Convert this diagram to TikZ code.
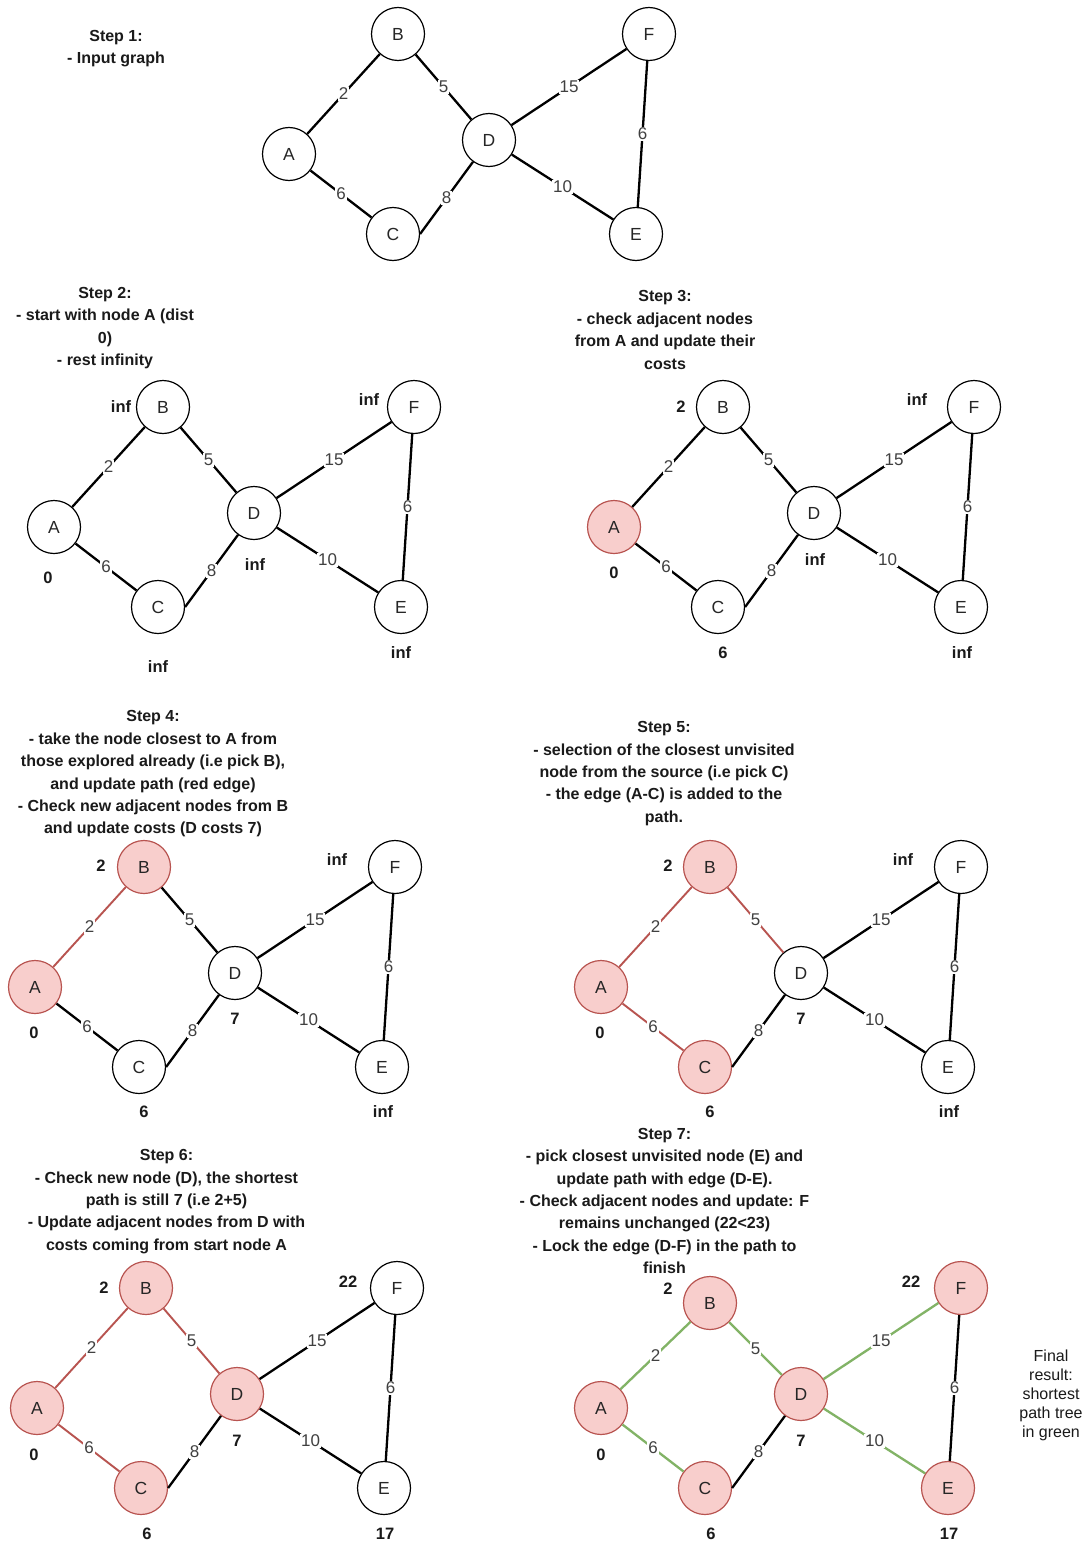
\documentclass[tikz,border=0pt]{standalone}
\usepackage{fontspec}
\setmainfont{Liberation Sans}
\usetikzlibrary{backgrounds}

\definecolor{visfill}{HTML}{F8CECC}
\definecolor{visline}{HTML}{B85450}
\definecolor{treeline}{HTML}{82B366}
\definecolor{inktext}{HTML}{1A1A1A}
\definecolor{weighttext}{HTML}{404040}

\tikzset{
  vertex/.style={circle, draw=black, line width=1.2pt, fill=white,
    minimum size=53pt, inner sep=0pt, font=\fontsize{17.5}{20}\selectfont, text=black!85},
  visited/.style={fill=visfill, draw=visline},
  plainedge/.style={line width=2.3pt, draw=black},
  redge/.style={line width=1.9pt, draw=visline},
  gedge/.style={line width=2.3pt, draw=treeline},
  wlabel/.style={fill=white, inner sep=1pt, font=\fontsize{17}{20}\selectfont, text=weighttext},
  dist/.style={font=\bfseries\fontsize{16.5}{19}\selectfont, text=inktext},
  caption/.style={align=center, font=\bfseries\fontsize{16}{22.4}\selectfont, text=inktext},
  note/.style={align=center, font=\fontsize{16}{19}\selectfont, text=inktext},
  % per-step appearance of vertices and edges
  stA/.style={}, stB/.style={}, stC/.style={}, stD/.style={}, stE/.style={}, stF/.style={},
  eAB/.style={}, eBD/.style={}, eAC/.style={}, eCD/.style={}, eDF/.style={}, eDE/.style={}, eFE/.style={},
}

% the weighted graph, in the coordinates of its first copy
\newcommand\graphbody{%
  \node[vertex, stA] (A) at (289,154) {A};
  \node[vertex, stB] (B) at (398,34)  {B};
  \node[vertex, stC] (C) at (393,234) {C};
  \node[vertex, stD] (D) at (489,140) {D};
  \node[vertex, stE] (E) at (636,234) {E};
  \node[vertex, stF] (F) at (649,34)  {F};
  \draw[plainedge, eAB] (A) -- node[wlabel] {2} (B);
  \draw[plainedge, eBD] (B) -- node[wlabel] {5} (D);
  \draw[plainedge, eAC] (A) -- node[wlabel] {6} (C);
  \draw[plainedge, eCD] (C.east) -- node[wlabel] {8} (D);
  \draw[plainedge, eDF] (D) -- node[wlabel] {15} (F);
  \draw[plainedge, eDE] (D) -- node[wlabel] {10} (E);
  \draw[plainedge, eFE] (F) -- node[wlabel] {6} (E);
}

\begin{document}
\begin{tikzpicture}[x=1pt, y=-1pt]
\fill[white] (0,0) rectangle (1089,1544);
\useasboundingbox (0,0) rectangle (1089,1544);

% Step 1
\node[caption] (cap1) at (116,48.5) {Step 1:\\- Input graph};
\begin{scope}[name prefix=s1-]
  \graphbody
\end{scope}

% Step 2
\node[caption] (cap2) at (105,328) {Step 2:\\- start with node A (dist\\0)\\- rest infinity};
\begin{scope}[shift={(-235,373)}, name prefix=s2-]
  \graphbody
\end{scope}
\node[dist] (d2B) at (121,407) {inf};
\node[dist] (d2F) at (369,400) {inf};
\node[dist] (d2A) at (48,578) {0};
\node[dist] (d2D) at (255,565) {inf};
\node[dist] (d2C) at (158,667) {inf};
\node[dist] (d2E) at (401,653) {inf};

% Step 3
\node[caption] (cap3) at (665,330) {Step 3:\\- check adjacent nodes\\from A and update their\\costs};
\begin{scope}[shift={(325,373)}, name prefix=s3-, stA/.style={visited}]
  \graphbody
\end{scope}
\node[dist] (d3B) at (681,407) {2};
\node[dist] (d3F) at (917,400) {inf};
\node[dist] (d3A) at (614,573) {0};
\node[dist] (d3D) at (815,560) {inf};
\node[dist] (d3C) at (723,653) {6};
\node[dist] (d3E) at (962,653) {inf};

% Step 4
\node[caption] (cap4) at (153,774) {Step 4:\\- take the node closest to A from\\those explored already (i.e pick B),\\and update path (red edge)\\- Check new adjacent nodes from B\\and update costs (D costs 7)};
\begin{scope}[shift={(-254,833)}, name prefix=s4-,
    stA/.style={visited}, stB/.style={visited}, eAB/.style={redge}]
  \graphbody
\end{scope}
\node[dist] (d4B) at (101,866) {2};
\node[dist] (d4F) at (337,860) {inf};
\node[dist] (d4A) at (34,1033) {0};
\node[dist] (d4D) at (235,1019) {7};
\node[dist] (d4C) at (144,1112) {6};
\node[dist] (d4E) at (383,1112) {inf};

% Step 5
\node[caption] (cap5) at (664,773.5) {Step 5:\\- selection of the closest unvisited\\node from the source (i.e pick C)\\- the edge (A-C) is added to the\\path.};
\begin{scope}[shift={(312,833)}, name prefix=s5-,
    stA/.style={visited}, stB/.style={visited}, stC/.style={visited},
    eAB/.style={redge}, eBD/.style={redge}, eAC/.style={redge}]
  \graphbody
\end{scope}
\node[dist] (d5B) at (668,866) {2};
\node[dist] (d5F) at (903,860) {inf};
\node[dist] (d5A) at (600,1033) {0};
\node[dist] (d5D) at (801,1019) {7};
\node[dist] (d5C) at (710,1112) {6};
\node[dist] (d5E) at (949,1112) {inf};

% Step 6
\node[caption] (cap6) at (166.5,1201.5) {Step 6:\\- Check new node (D), the shortest\\path is still 7 (i.e 2+5)\\- Update adjacent nodes from D with\\costs coming from start node A};
\begin{scope}[shift={(-252,1254)}, name prefix=s6-,
    stA/.style={visited}, stB/.style={visited}, stC/.style={visited}, stD/.style={visited},
    eAB/.style={redge}, eBD/.style={redge}, eAC/.style={redge}]
  \graphbody
\end{scope}
\node[dist] (d6B) at (104,1288) {2};
\node[dist] (d6F) at (348,1282) {22};
\node[dist] (d6A) at (34,1455) {0};
\node[dist] (d6D) at (237,1441) {7};
\node[dist] (d6C) at (147,1534) {6};
\node[dist] (d6E) at (385,1534) {17};

% Step 7
\node[caption] (cap7) at (664.5,1201) {Step 7:\\- pick closest unvisited node (E) and\\update path with edge (D-E).\\- Check adjacent nodes and update: F\\remains unchanged (22<23)\\- Lock the edge (D-F) in the path to\\finish};
\begin{scope}[shift={(312,1254)}, name prefix=s7-,
    stA/.style={visited}, stB/.style={visited, yshift=-15pt}, stC/.style={visited},
    stD/.style={visited}, stE/.style={visited}, stF/.style={visited},
    eAB/.style={gedge}, eBD/.style={gedge}, eAC/.style={gedge},
    eDF/.style={gedge}, eDE/.style={gedge}]
  \graphbody
\end{scope}
\node[dist] (d7B) at (668,1289) {2};
\node[dist] (d7F) at (911,1282) {22};
\node[dist] (d7A) at (601,1455) {0};
\node[dist] (d7D) at (801,1441) {7};
\node[dist] (d7C) at (711,1534) {6};
\node[dist] (d7E) at (949,1534) {17};

\node[note] (final) at (1051,1395) {Final\\result:\\shortest\\path tree\\in green};
\end{tikzpicture}
\end{document}
